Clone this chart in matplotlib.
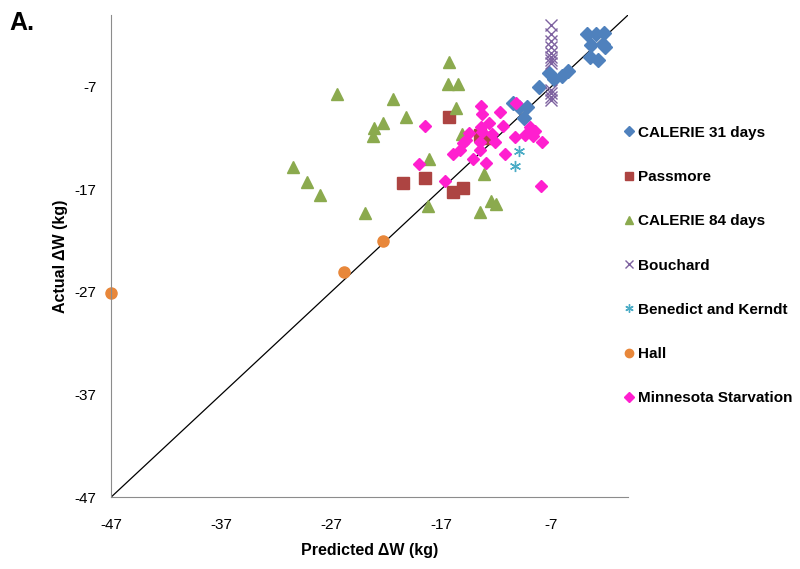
import matplotlib.pyplot as plt

plt.rcParams['font.family'] = ['Liberation Sans', 'DejaVu Sans']
plt.rcParams['axes.unicode_minus'] = False

# CALERIE 31 days
cal31_x = [-3.7, -2.9, -2.2, -3.4, -2.3, -2.1, -3.5, -2.7, -7.2, -6.7, -6.0, -5.5,
           -8.1, -10.5, -9.9, -9.2, -9.5]
cal31_y = [-1.8, -1.8, -1.7, -2.9, -2.8, -3.1, -4.1, -4.4, -5.6, -6.2, -5.9, -5.5,
           -7.0, -8.6, -9.0, -9.0, -10.0]

# Passmore
pass_x = [-16.3, -13.5, -12.9, -20.5, -18.5, -15.9, -15.0]
pass_y = [-9.9, -11.7, -12.0, -16.4, -15.9, -17.3, -16.9]

# CALERIE 84 days
cal84_x = [-16.3, -16.4, -15.5, -26.5, -21.4, -15.6, -20.2, -22.3, -23.1, -23.2, -15.1,
           -18.1, -13.1, -30.5, -29.2, -28.0, -13.5, -12.5, -12.0, -18.2, -23.9]
cal84_y = [-4.6, -6.75, -6.75, -7.7, -8.2, -9.1, -9.9, -10.5, -11.0, -11.8, -11.6,
           -14.0, -15.5, -14.8, -16.3, -17.5, -19.2, -18.1, -18.4, -18.6, -19.3]

# Bouchard
bou_x = [-7.0] * 12
bou_y = [-1.0, -1.8, -2.5, -3.1, -3.7, -4.1, -4.4, -4.7, -7.3, -7.6, -8.0, -8.3]

# Benedict and Kerndt
ben_x = [-9.9, -10.3]
ben_y = [-13.3, -14.7]

# Hall
hall_x = [-47.0, -25.8, -22.3]
hall_y = [-27.1, -25.1, -22.0]

# Minnesota Starvation
min_x = [-13.4, -13.3, -11.6, -18.5, -12.6, -11.4, -13.4, -14.5, -13.3, -14.7, -15.0,
         -13.5, -12.4, -12.1, -10.2, -10.3, -9.4, -8.9, -8.5, -8.6, -7.8, -15.3, -15.9,
         -13.5, -14.1, -11.2, -12.9, -16.6, -7.9, -19.0]
min_y = [-8.9, -9.6, -9.5, -10.8, -10.5, -10.8, -10.9, -11.5, -11.4, -12.2, -12.5,
         -12.4, -11.6, -12.4, -8.6, -11.9, -11.7, -10.9, -11.3, -11.8, -12.4, -13.2, -13.5,
         -13.2, -14.0, -13.5, -14.4, -16.2, -16.7, -14.5]

ticks = [-47, -37, -27, -17, -7]


def main():
    fig = plt.figure(figsize=(8, 5.69), dpi=100)
    ax = fig.add_axes([0.139, 0.1265, 0.646, 0.847])

    ax.plot([-47, 0], [-47, 0], color='black', lw=0.9, zorder=1)

    ax.plot(cal31_x, cal31_y, 'D', color='#4F81BD', ms=7, ls='none', label='CALERIE 31 days')
    ax.plot(pass_x, pass_y, 's', color='#AD4442', ms=8, ls='none', label='Passmore')
    ax.plot(cal84_x, cal84_y, '^', color='#8BAA4E', ms=8, ls='none', label='CALERIE 84 days')
    ax.plot(bou_x, bou_y, 'x', color='#7E62A0', ms=8, mew=1.0, ls='none', label='Bouchard')
    ax.plot(ben_x, ben_y, marker=(6, 2, 0), color='#4BACC6', ms=8, mew=1.0, ls='none',
            label='Benedict and Kerndt')
    ax.plot(hall_x, hall_y, 'o', color='#E8873A', ms=8, ls='none', label='Hall', clip_on=False)
    ax.plot(min_x, min_y, 'D', color='#FF1FCF', ms=6.5, ls='none', label='Minnesota Starvation')

    ax.set_xlim(-47, 0)
    ax.set_ylim(-47, 0)
    ax.set_xticks(ticks)
    ax.set_yticks(ticks)
    ax.tick_params(length=0, labelsize=11)
    ax.tick_params(axis='x', pad=15)
    ax.tick_params(axis='y', pad=10.5)
    for s in ['top', 'right']:
        ax.spines[s].set_visible(False)
    for s in ['left', 'bottom']:
        ax.spines[s].set_color('#8C8C8C')

    ax.set_xlabel('Predicted ΔW (kg)', fontsize=11.5, fontweight='bold', labelpad=8)
    ax.set_ylabel('Actual ΔW (kg)', fontsize=11.5, fontweight='bold', labelpad=5)

    fig.legend(loc='upper left', bbox_to_anchor=(0.762, 0.803), frameon=False,
               prop={'weight': 'bold', 'size': 11}, markerscale=0.75,
               handlelength=0.7, handletextpad=0.25, labelspacing=1.98)

    fig.text(0.012, 0.98, 'A.', fontsize=18, fontweight='bold', va='top')

    fig.savefig('out.png', dpi=100)


if __name__ == "__main__":
    main()
